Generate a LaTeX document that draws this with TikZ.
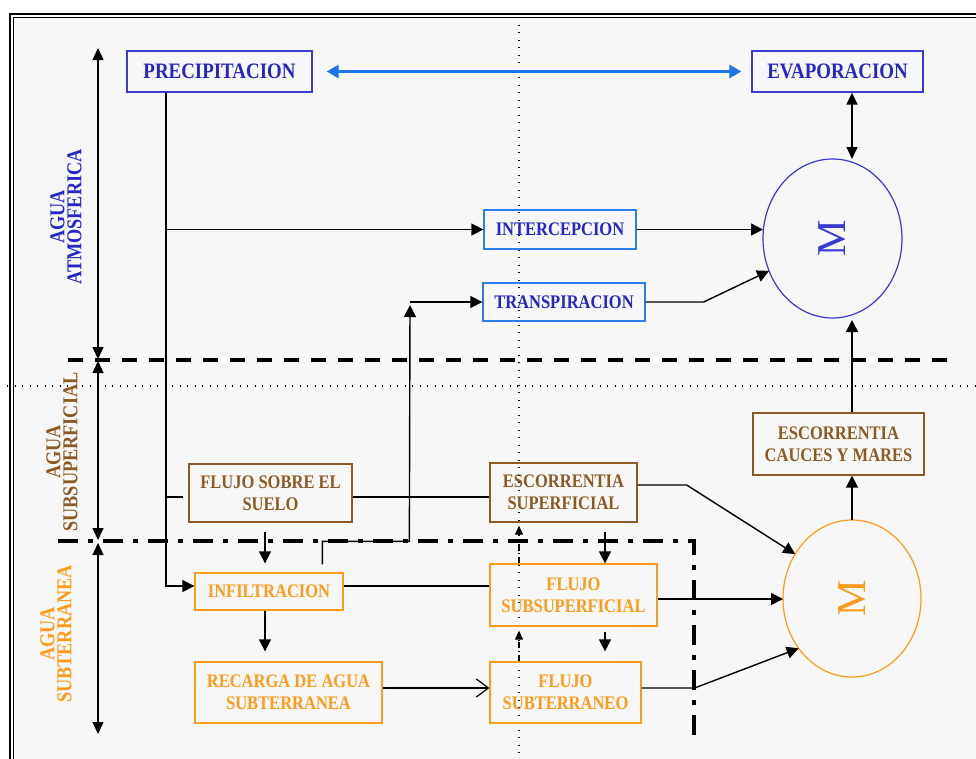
\documentclass[tikz,border=0pt]{standalone}
\usepackage{fontspec}
\setmainfont{Liberation Serif}
\newfontfamily\condserif[FakeStretch=0.86]{Liberation Serif}
\usetikzlibrary{arrows.meta,shapes.geometric}

\definecolor{panelgray}{HTML}{F7F7F7}
\definecolor{inkblue}{HTML}{2626C4}
\definecolor{frameblue}{HTML}{3A3AD0}
\definecolor{skyblue}{HTML}{2E7CEB}
\definecolor{flowblue}{HTML}{1F74EC}
\definecolor{soilbrown}{HTML}{8C5A24}
\definecolor{groundorange}{HTML}{FF9A1A}

\tikzset{
  boxtext/.style={draw, line width=1.3pt, inner sep=0pt, align=center,
    font=\condserif\bfseries\fontsize{19.2}{22}\selectfont},
  atmbox/.style={boxtext, draw=frameblue, text=inkblue,
    font=\condserif\bfseries\fontsize{22}{22}\selectfont},
  skybox/.style={boxtext, draw=skyblue, text=inkblue},
  soilbox/.style={boxtext, draw=soilbrown, text=soilbrown},
  groundbox/.style={boxtext, draw=groundorange, text=groundorange},
  storage/.style={ellipse, draw, line width=1.2pt, inner sep=0pt, outer sep=0pt},
  storagelbl/.style={rotate=90, inner sep=0pt, font=\fontsize{41}{41}\selectfont},
  sidelbl/.style={rotate=90, align=center, inner sep=0pt,
    font=\condserif\bfseries\fontsize{21.2}{17}\selectfont},
  plain/.style={line width=1.4pt},
  arr/.style={line width=1.4pt, -{Triangle[length=12pt,width=12pt]}},
  dbl/.style={line width=1.4pt, {Triangle[length=12pt,width=11pt]}-{Triangle[length=12pt,width=11pt]}},
  openarr/.style={line width=1.4pt, -{Straight Barb[length=12pt,width=18pt,line width=1.2pt]}},
  dasharr/.style={line width=1.2pt, dash pattern=on 6pt off 3pt on 1.5pt off 3pt,
    -{Triangle[length=9pt,width=8pt]}},
  bluearr/.style={draw=flowblue, line width=2.6pt,
    {Triangle[length=12pt,width=13pt]}-{Triangle[length=12pt,width=13pt]}},
  guide/.style={line width=1.3pt, dash pattern=on 1.3pt off 6.2pt},
  zoneline/.style={line width=4pt, dash pattern=on 15pt off 12pt},
  zonedashdot/.style={line width=4pt, dash pattern=on 20pt off 10pt on 5pt off 10pt},
}

\begin{document}
\begin{tikzpicture}[x=1pt,y=-1pt]
\useasboundingbox (0,0) rectangle (976,758);
\clip (0,0) rectangle (976,758);

% page and double frame
\fill[white] (0,0) rectangle (976,758);
\fill[panelgray] (14,18) rectangle (1000,800);
\draw[line width=2pt] (9.5,13.5) rectangle (1005,805);
\draw[line width=1.2pt] (13.5,17.5) rectangle (1000,800);

% dotted guide lines
\draw[guide] (7,386) -- (976,386);
\draw[guide] (519,17) -- (519,758);

% zone boundaries
\draw[zoneline] (68,360) -- (956,360);
\draw[zonedashdot] (58,541) -- (694,541) -- (694,745);

% zone extents
\coordinate (z0) at (98,48);
\coordinate (z1a) at (98,359);
\coordinate (z1b) at (98,361);
\coordinate (z2a) at (98,540);
\coordinate (z2b) at (98,543);
\coordinate (z3) at (98,734);
\draw[dbl] (z0) -- (z1a);
\draw[dbl] (z1b) -- (z2a);
\draw[dbl] (z2b) -- (z3);

% zone labels
\node[sidelbl, text=inkblue] (lblatm) at (66,217) {AGUA\\ATMOSFERICA};
\node[sidelbl, text=soilbrown] (lblsub) at (62,452) {AGUA\\SUBSUPERFICIAL};
\node[sidelbl, text=groundorange] (lblgw) at (56,634) {AGUA\\SUBTERRANEA};

% process boxes
\node[atmbox, minimum width=185pt, minimum height=41pt] (precip) at (219.5,71.5) {PRECIPITACION};
\node[atmbox, minimum width=171pt, minimum height=41pt] (evap) at (837.5,71.5) {EVAPORACION};
\node[skybox, minimum width=152pt, minimum height=39pt] (intercep) at (560,229.5) {INTERCEPCION};
\node[skybox, minimum width=162pt, minimum height=38pt] (transp) at (564,302) {TRANSPIRACION};
\node[soilbox, minimum width=163pt, minimum height=58pt] (sobre) at (270.5,493) {FLUJO SOBRE EL\\SUELO};
\node[soilbox, minimum width=147pt, minimum height=59pt] (escsup) at (563.5,492.5) {ESCORRENTIA\\SUPERFICIAL};
\node[soilbox, minimum width=171pt, minimum height=62pt] (cauces) at (838.5,444) {ESCORRENTIA\\CAUCES Y MARES};
\node[groundbox, minimum width=148pt, minimum height=37pt] (infil) at (269,591.5) {INFILTRACION};
\node[groundbox, minimum width=187pt, minimum height=61pt] (recarga) at (288.5,692.5) {RECARGA DE AGUA\\SUBTERRANEA};
\node[groundbox, minimum width=167pt, minimum height=62pt] (subsup) at (573.5,595) {FLUJO\\SUBSUPERFICIAL};
\node[groundbox, minimum width=151pt, minimum height=61pt] (subter) at (565.5,692.5) {FLUJO\\SUBTERRANEO};

% storages
\node[storage, draw=frameblue, minimum width=139pt, minimum height=159pt] (mb) at (832.5,238.5) {};
\node[storagelbl, text=frameblue] (mbl) at (mb.center) {M};
\node[storage, draw=groundorange, minimum width=138pt, minimum height=157pt] (mo) at (852,598.5) {};
\node[storagelbl, text=groundorange] (mol) at (mo.center) {M};

% helper verticals
\coordinate (px) at (166,0);
\coordinate (tx) at (410,0);
\coordinate (vx) at (519,0);
\coordinate (dx) at (605,0);
\coordinate (rx) at (852,0);

% precipitation / evaporation exchange
\draw[bluearr] ([xshift=14pt]precip.east) -- ([xshift=-10pt]evap.west);
\draw[dbl] (rx |- evap.south) -- (rx |- mb.north);

% precipitation distribution
\draw[arr] (precip.south -| px) |- ([yshift=5.5pt]infil.west);
\draw[arr] (px |- intercep.west) -- (intercep.west);
\draw[plain] ([yshift=-4pt]sobre.west -| px) -- ([xshift=-5pt,yshift=-4pt]sobre.west);

% atmospheric returns
\draw[arr] (intercep.east) -- (intercep.east -| mb.west);
\draw[arr] (transp.east) -- ++(58,0) -- (mb.207);
\draw[arr] ([xshift=128pt,yshift=8pt]infil.north west) -- ++(0,-23) -- ++(87,0) -- ([yshift=-3pt]tx |- transp.west);
\draw[arr] (tx |- transp.west) -- (transp.west);

% surface flows
\draw[plain] ([yshift=-4pt]sobre.east) -- ([yshift=-4pt]sobre.east -| escsup.west);
\draw[arr] ([xshift=-5.5pt,yshift=-9pt]sobre.south) -- ([xshift=-5.5pt,yshift=9pt]sobre.south |- infil.north);
\draw[arr] ([yshift=7.5pt]escsup.east) -- ++(49,0) -- (mo.142);
\draw[arr] ([yshift=-9pt]escsup.south -| dx) -- (dx |- subsup.north);

% subsurface flows
\draw[plain] ([yshift=5.5pt]infil.east) -- ([yshift=5.5pt]infil.east -| subsup.west);
\draw[arr] ([xshift=-4pt]infil.south) -- ([xshift=-4pt,yshift=10pt]infil.south |- recarga.north);
\draw[openarr] ([yshift=4.5pt]recarga.east) -- ([yshift=4.5pt]recarga.east -| subter.west);
\draw[arr] ([yshift=-4pt]subsup.east) -- ([yshift=-4pt]subsup.east -| mo.west);
\draw[arr] ([yshift=-5pt]subsup.south -| dx) -- ([yshift=10pt]dx |- subter.north);
\draw[arr] ([yshift=4.5pt]subter.east) -- ++(53,0) -- (mo.223);
\draw[dasharr] (vx |- subsup.north) -- ([yshift=-3pt]vx |- escsup.south);
\draw[dasharr] (vx |- subter.north) -- ([yshift=-4pt]vx |- subsup.south);

% runoff to the ocean and back to the atmosphere
\draw[arr] (mo.north) -- (mo.north |- cauces.south);
\draw[arr] (rx |- cauces.north) -- ([yshift=-2pt]rx |- mb.south);
\end{tikzpicture}
\end{document}
